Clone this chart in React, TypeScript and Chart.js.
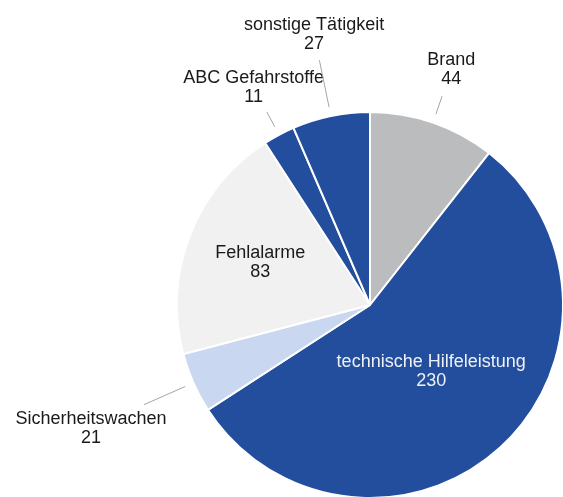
import React, { useEffect, useRef } from "react";
import { Chart, registerables } from "chart.js";

Chart.register(...registerables);

const categories = [
  "Brand",
  "technische Hilfeleistung",
  "Sicherheitswachen",
  "Fehlalarme",
  "ABC Gefahrstoffe",
  "sonstige Tätigkeit",
];
const values = [44, 230, 21, 83, 11, 27];

// styling (not data)
const sliceColors = ["#bbbcbe", "#234e9d", "#c9d7f1", "#f1f1f1", "#234e9d", "#234e9d"];
const labelColors = ["#1a1a1a", "#eef1f8", "#1a1a1a", "#1a1a1a", "#1a1a1a", "#1a1a1a"];
const labelRadius = [1.29, 0.47, 1.58, 0.61, 1.28, 1.43];
const leaderEnd = [1.145, 0, 1.28, 0, 1.135, 1.295];

const labelPlugin = {
  id: "sliceLabels",
  afterDatasetsDraw(chart: any) {
    const ctx = chart.ctx;
    const meta = chart.getDatasetMeta(0);
    meta.data.forEach((arc: any, i: number) => {
      const p = arc.getProps(["x", "y", "startAngle", "endAngle", "outerRadius"], true);
      const mid = (p.startAngle + p.endAngle) / 2;
      const c = Math.cos(mid);
      const s = Math.sin(mid);
      const R = p.outerRadius;
      ctx.save();
      if (leaderEnd[i] > 0) {
        ctx.strokeStyle = "#a5a5a5";
        ctx.lineWidth = 1;
        ctx.beginPath();
        ctx.moveTo(p.x + c * (R + 9), p.y + s * (R + 9));
        ctx.lineTo(p.x + c * R * leaderEnd[i], p.y + s * R * leaderEnd[i]);
        ctx.stroke();
      }
      const lx = p.x + c * R * labelRadius[i];
      const ly = p.y + s * R * labelRadius[i];
      ctx.font = '18px "Liberation Sans", Arial, sans-serif';
      ctx.fillStyle = labelColors[i];
      ctx.textAlign = "center";
      ctx.textBaseline = "middle";
      ctx.fillText(categories[i], lx, ly - 9.5);
      ctx.fillText(String(values[i]), lx, ly + 9.5);
      ctx.restore();
    });
  },
};

export default function App() {
  const ref = useRef<HTMLCanvasElement | null>(null);
  useEffect(() => {
    if (!ref.current) return;
    const chart = new Chart(ref.current, {
      type: "pie",
      data: {
        labels: categories,
        datasets: [
          {
            data: values,
            backgroundColor: sliceColors,
            borderColor: "#ffffff",
            borderWidth: 2,
          },
        ],
      },
      options: {
        responsive: false,
        animation: false,
        layout: { padding: { left: 176, top: 111, right: 36, bottom: 21 } },
        plugins: {
          legend: { display: false },
          tooltip: { enabled: false },
        },
      },
      plugins: [labelPlugin],
    });
    return () => chart.destroy();
  }, []);
  return (
    <div
      style={{
        position: "fixed",
        left: 0,
        top: 0,
        width: 563,
        height: 497,
        overflow: "hidden",
        background: "#ffffff",
      }}
    >
      <canvas ref={ref} width={600} height={520} style={{ display: "block" }} />
    </div>
  );
}
